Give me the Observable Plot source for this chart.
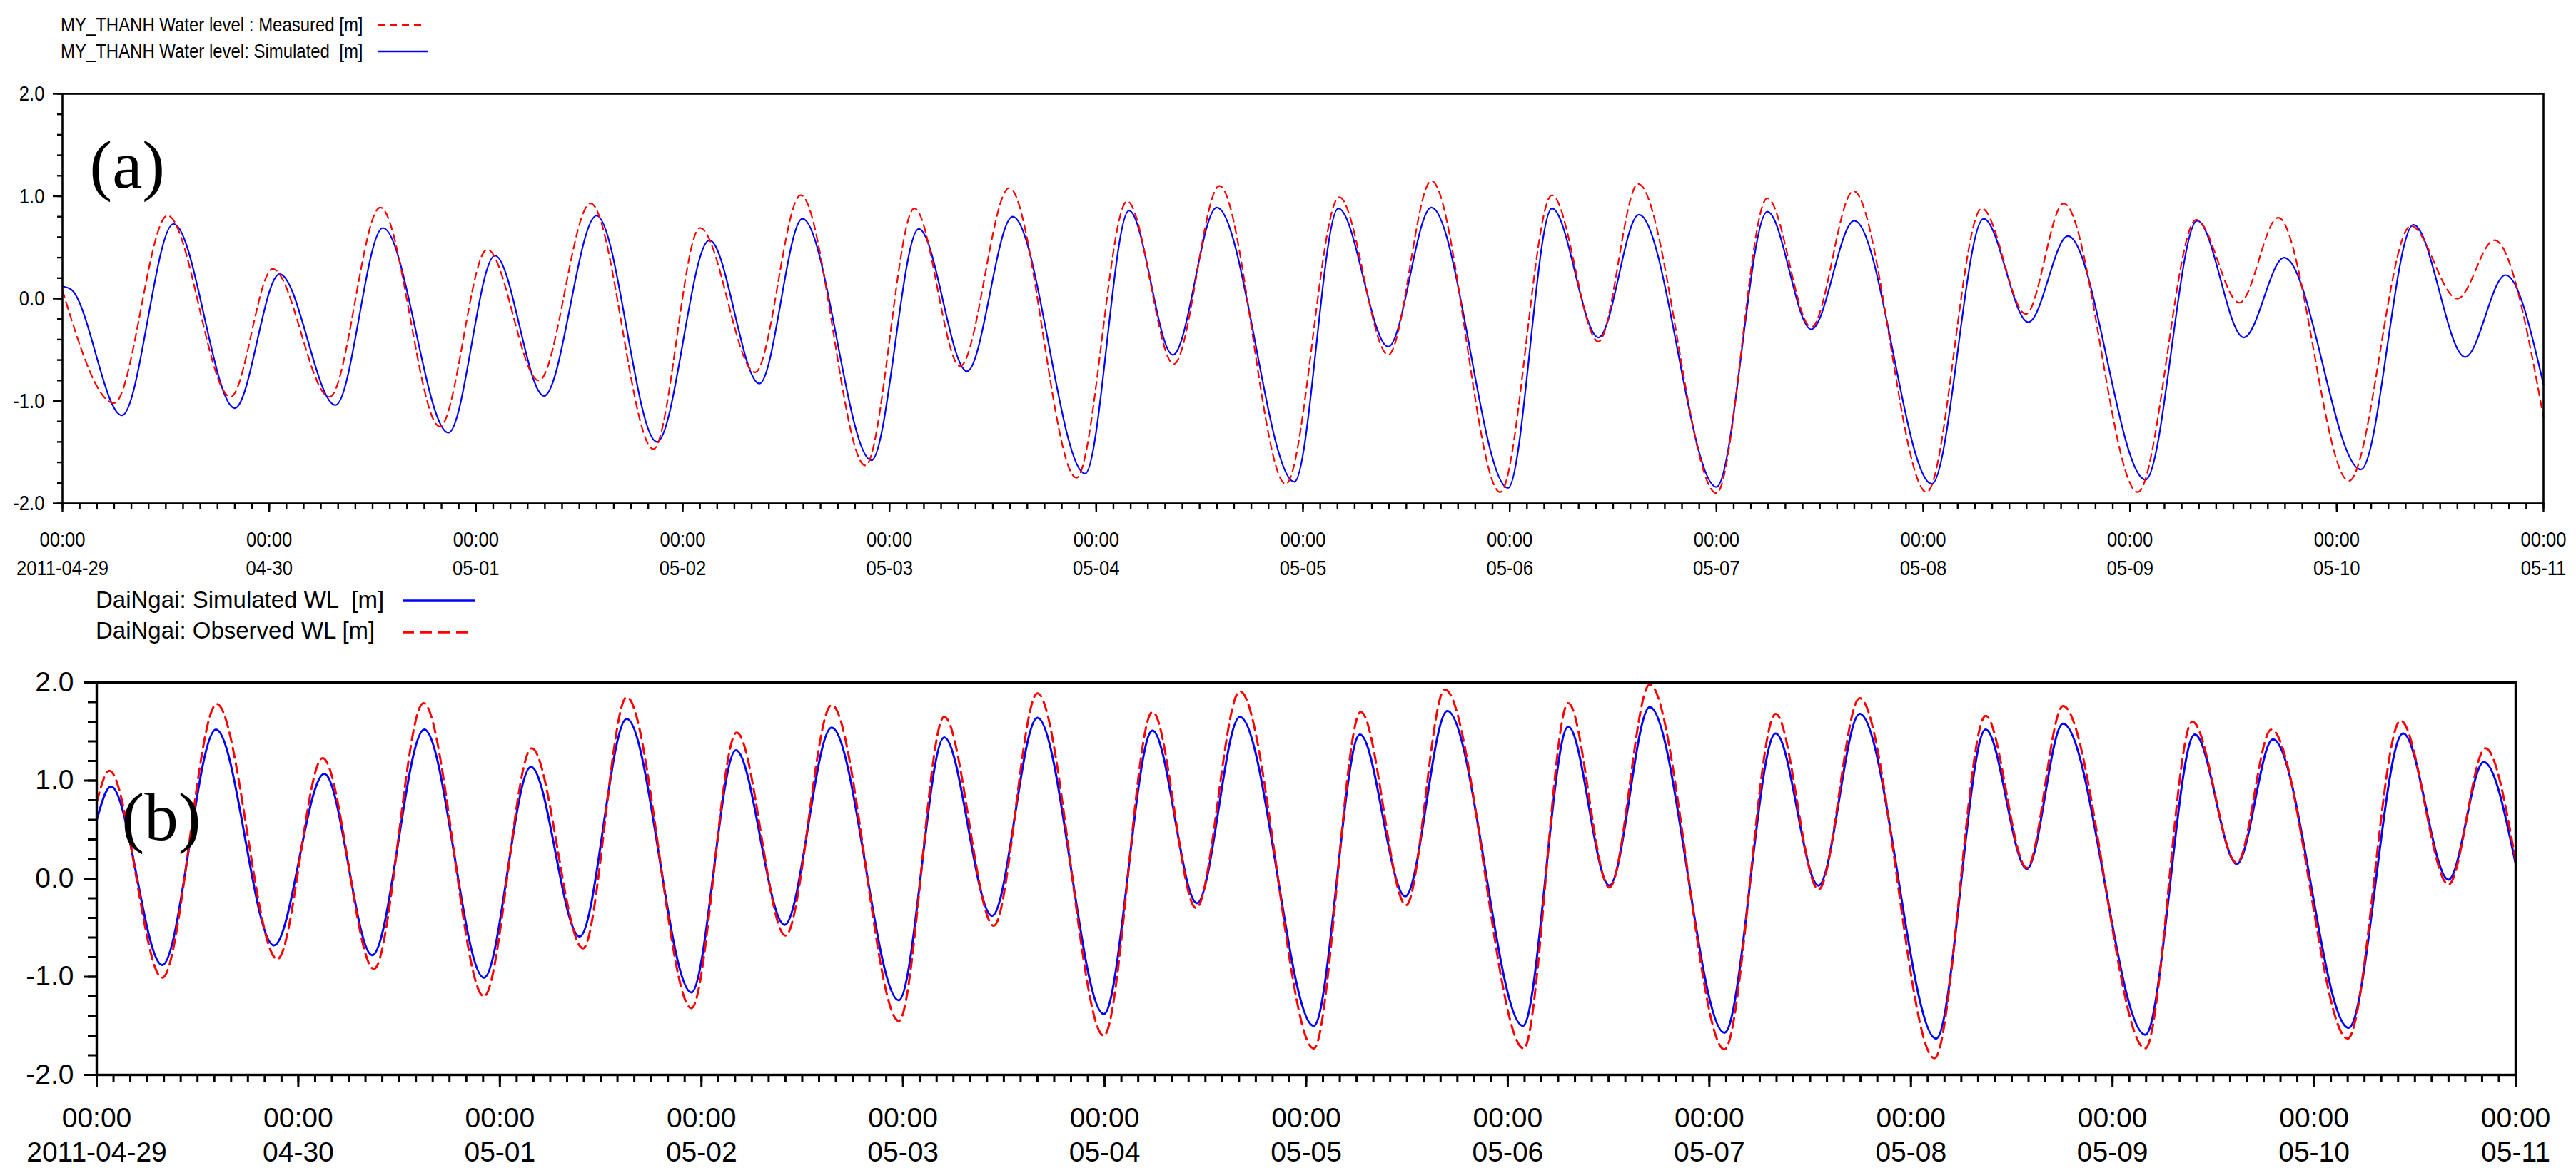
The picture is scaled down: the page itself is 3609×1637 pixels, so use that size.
<!DOCTYPE html>
<html><head><meta charset="utf-8">
<script src="https://cdn.jsdelivr.net/npm/d3@7"></script>
<script src="https://cdn.jsdelivr.net/npm/@observablehq/plot@0.6"></script>
<style>
html,body{margin:0;padding:0;background:#fff;}
#page{position:relative;width:3609px;height:1637px;overflow:hidden;background:#fff;font-family:"Liberation Sans",Arial,sans-serif;}
.panel{position:absolute;left:0;}
.leg{position:absolute;white-space:pre;line-height:1;color:#000;font-family:"Liberation Sans",Arial,sans-serif;}
.legA{font-size:28px;transform:scaleX(0.855);transform-origin:0 0;}
.legB{font-size:33px;}
#sw{position:absolute;left:0;top:0;pointer-events:none;}
</style></head><body><div id="page"></div>
<script>
// ---------------- data ----------------
const startDate = Date.UTC(2011, 3, 29); // 2011-04-29 00:00
const spanDays = 12;
const timeLabel = "00:00";
const dayLabels = ["2011-04-29","04-30","05-01","05-02","05-03","05-04","05-05","05-06","05-07","05-08","05-09","05-10","05-11"];
const yMajorTicks = [-2, -1, 0, 1, 2];

// Panel (a) MY_THANH — hours since start, water level [m]
const aSimHours = [0,1,6.9,12.9,20.0,25.2,31.7,37.2,44.8,50.2,55.9,62.0,69.0,75.1,80.9,85.9,93.9,99.4,105.0,110.3,118.7,123.8,128.9,134.0,143.0,148.1,153.9,158.9,167.8,172.9,178.3,183.0,192.0,197.9,203.0,208.0,217.0,223.0,228.2,232.8,241.8,247.8,253.2,257.9,266.8,272.9,278.9,283.6,288];
const aSimLevels = [0.12,0.09,-1.14,0.73,-1.07,0.24,-1.04,0.69,-1.31,0.42,-0.95,0.81,-1.40,0.57,-0.83,0.78,-1.58,0.68,-0.71,0.80,-1.71,0.86,-0.55,0.89,-1.79,0.88,-0.47,0.89,-1.85,0.88,-0.38,0.82,-1.84,0.85,-0.30,0.76,-1.81,0.78,-0.23,0.61,-1.77,0.76,-0.38,0.40,-1.67,0.72,-0.57,0.23,-0.84];
const aMeasHours = [0,6.0,12.2,19.5,24.4,31.0,36.9,43.8,49.3,55.3,61.3,68.6,74.0,80.4,85.7,93.2,98.9,104.2,109.9,117.7,123.6,129.0,134.3,142.0,148.2,153.9,158.9,166.9,172.9,178.3,182.9,192.0,197.9,203.0,207.9,216.4,222.8,227.9,232.3,240.9,247.7,252.7,257.2,265.4,272.6,278.0,282.3,288];
const aMeasLevels = [0.08,-1.02,0.81,-0.96,0.29,-0.96,0.89,-1.25,0.48,-0.80,0.93,-1.47,0.69,-0.72,1.01,-1.63,0.88,-0.66,1.08,-1.75,0.95,-0.64,1.10,-1.81,0.99,-0.55,1.15,-1.89,1.01,-0.42,1.12,-1.90,0.98,-0.28,1.05,-1.89,0.88,-0.15,0.93,-1.89,0.77,-0.04,0.79,-1.78,0.71,0.00,0.57,-1.16];

// Panel (b) DaiNgai
const bSimHours = [0,1.7,7.8,14.2,21.1,27.1,32.8,39.0,46.1,51.7,57.5,63.1,70.8,76.1,81.9,87.5,95.5,100.9,106.6,112.0,119.9,125.7,131.0,136.1,144.9,150.4,155.8,160.8,169.8,175.2,180.1,184.9,193.8,199.9,205.0,209.9,219.0,224.9,229.8,234.1,243.9,249.8,254.8,259.1,268.1,274.6,280.0,284.2,288];
const bSimLevels = [0.60,0.94,-0.88,1.52,-0.68,1.07,-0.78,1.52,-1.01,1.14,-0.59,1.63,-1.16,1.31,-0.47,1.54,-1.24,1.44,-0.38,1.64,-1.38,1.51,-0.25,1.65,-1.50,1.47,-0.18,1.71,-1.50,1.55,-0.07,1.75,-1.57,1.48,-0.07,1.68,-1.63,1.52,0.10,1.58,-1.59,1.47,0.15,1.42,-1.52,1.48,-0.01,1.19,0.15];
const bObsHours = [0,1.5,7.8,14.3,21.5,26.9,33.0,38.9,46.1,51.8,57.9,63.1,70.8,76.2,82.0,87.5,95.5,100.9,106.8,112.0,119.9,125.7,130.9,136.1,144.9,150.5,155.9,160.5,169.9,175.2,180.1,184.9,193.8,199.9,205.0,209.9,218.8,224.9,229.8,234.1,243.9,249.5,254.8,258.9,268.0,274.3,280.0,284.4,288];
const bObsLevels = [0.78,1.10,-1.01,1.78,-0.82,1.23,-0.92,1.79,-1.20,1.33,-0.71,1.85,-1.32,1.49,-0.58,1.77,-1.45,1.65,-0.48,1.89,-1.60,1.70,-0.30,1.91,-1.73,1.70,-0.27,1.93,-1.73,1.79,-0.09,1.98,-1.74,1.68,-0.11,1.84,-1.83,1.66,0.11,1.76,-1.73,1.60,0.16,1.52,-1.63,1.61,-0.06,1.33,0.18];

const legendA = ["MY_THANH Water level : Measured [m]", "MY_THANH Water level: Simulated  [m]"];
const legendB = ["DaiNgai: Simulated WL  [m]", "DaiNgai: Observed WL [m]"];
const panelLabels = ["(a)", "(b)"];

// ---------------- build ----------------
const t0 = new Date(startDate);
const t1 = new Date(startDate + spanDays * 864e5);
const toSeries = (hours, levels) => hours.map((h, i) => ({t: new Date(startDate + h * 36e5), v: levels[i]}));
const dayTicks = d3.utcDay.range(t0, new Date(+t1 + 1));
const hourTicks = d3.utcHour.every(2).range(t0, new Date(+t1 + 1));
const yMinorTicks = d3.range(-2, 2.0001, 0.2).map(d => Math.round(d * 10) / 10);
const fmtY = d => d.toFixed(1);
const page = document.getElementById("page");

function panel(o) {
  const svg = Plot.plot({
    width: 3609, height: o.height,
    marginTop: o.mt, marginBottom: o.mb, marginLeft: o.ml, marginRight: o.mr,
    x: {type: "utc", domain: [t0, t1], axis: null},
    y: {domain: [-2, 2], axis: null},
    style: {fontFamily: "'Liberation Sans', Arial, sans-serif", fontSize: o.fs + "px", color: "#000", background: "transparent", overflow: "visible"},
    marks: [
      ...o.lines,
      Plot.frame({stroke: "#000", strokeWidth: o.frameW}),
      Plot.axisY(yMinorTicks, {anchor: "left", tickSize: o.yMinor, tickFormat: () => "", strokeWidth: o.tickW, label: null}),
      Plot.axisY(yMajorTicks, {anchor: "left", tickSize: o.yMajor, tickFormat: () => "", strokeWidth: o.tickW, label: null}),
      Plot.axisX(hourTicks, {anchor: "bottom", tickSize: o.xMinor, tickFormat: () => "", strokeWidth: o.tickW, label: null}),
      Plot.axisX(dayTicks, {anchor: "bottom", tickSize: o.xMajor, tickFormat: () => "", strokeWidth: o.tickW, label: null}),
      Plot.text(yMajorTicks, {y: d => d, frameAnchor: "left", dx: o.ylDx, textAnchor: "end", lineAnchor: "middle", text: fmtY, fontSize: o.fs, fill: "#000"}),
      Plot.text(dayTicks, {x: d => d, frameAnchor: "bottom", dy: o.xlDy, lineAnchor: "top", lineHeight: o.lh, text: (d, i) => timeLabel + "\n" + dayLabels[i], fontSize: o.fs, fill: "#000"}),
      Plot.text([o.label], {frameAnchor: "top-left", dx: o.labDx, dy: o.labDy, lineAnchor: "bottom", textAnchor: "start", text: d => d, fontFamily: "'Liberation Serif', 'Times New Roman', serif", fontWeight: "normal", fontSize: 95, fill: "#000"})
    ]
  });
  if (o.squeeze) {
    for (const t of svg.querySelectorAll("text")) {
      if (t.textContent === o.label) continue;
      const tr = t.getAttribute("transform") || "";
      t.setAttribute("transform", tr + ` scale(${o.squeeze},1)`);
    }
  }
  const wrap = document.createElement("div");
  wrap.className = "panel";
  wrap.style.top = o.top + "px";
  wrap.appendChild(svg);
  page.appendChild(wrap);
}

panel({
  top: 0, height: 815, mt: 131, mb: 110, ml: 87, mr: 46, fs: 30, squeeze: 0.855,
  frameW: 2.6, tickW: 2.4, yMinor: 7, yMajor: 13, xMinor: 8, xMajor: 13,
  ylDx: -25, xlDy: 32, lh: 1.33, label: panelLabels[0], labDx: 38, labDy: 131,
  lines: [
    Plot.line(toSeries(aSimHours, aSimLevels), {x: "t", y: "v", stroke: "#0000ff", strokeWidth: 2.2, curve: "monotone-x"}),
    Plot.line(toSeries(aMeasHours, aMeasLevels), {x: "t", y: "v", stroke: "#ff0000", strokeWidth: 2.2, strokeDasharray: "10,7", curve: "monotone-x"})
  ]
});
panel({
  top: 815, height: 822, mt: 141, mb: 131, ml: 135, mr: 85, fs: 39, squeeze: null,
  frameW: 3.4, tickW: 3, yMinor: 12, yMajor: 18, xMinor: 11, xMajor: 17,
  ylDx: -32, xlDy: 39, lh: 1.23, label: panelLabels[1], labDx: 35, labDy: 220,
  lines: [
    Plot.line(toSeries(bSimHours, bSimLevels), {x: "t", y: "v", stroke: "#0000ff", strokeWidth: 3, curve: "monotone-x"}),
    Plot.line(toSeries(bObsHours, bObsLevels), {x: "t", y: "v", stroke: "#ff0000", strokeWidth: 3, strokeDasharray: "14,8", curve: "monotone-x"})
  ]
});

// ---------------- legends ----------------
function legText(txt, cls, left, top) {
  const d = document.createElement("div");
  d.className = "leg " + cls;
  d.style.left = left + "px";
  d.style.top = top + "px";
  d.textContent = txt;
  page.appendChild(d);
}
legText(legendA[0], "legA", 85, 21);
legText(legendA[1], "legA", 85, 58);
legText(legendB[0], "legB", 134, 824);
legText(legendB[1], "legB", 134, 867);

const sw = d3.select(page).append("svg").attr("id", "sw").attr("width", 3609).attr("height", 1637);
const swatches = [
  {x1: 529, x2: 594, y: 35, c: "#ff0000", w: 2.5, dash: "10,7"},
  {x1: 529, x2: 600, y: 72, c: "#0000ff", w: 2.5, dash: null},
  {x1: 564, x2: 666, y: 842, c: "#0000ff", w: 3.5, dash: null},
  {x1: 564, x2: 656, y: 886, c: "#ff0000", w: 3.5, dash: "16,9"}
];
sw.selectAll("line").data(swatches).join("line")
  .attr("x1", d => d.x1).attr("x2", d => d.x2).attr("y1", d => d.y).attr("y2", d => d.y)
  .attr("stroke", d => d.c).attr("stroke-width", d => d.w).attr("stroke-dasharray", d => d.dash);
</script></body></html>
